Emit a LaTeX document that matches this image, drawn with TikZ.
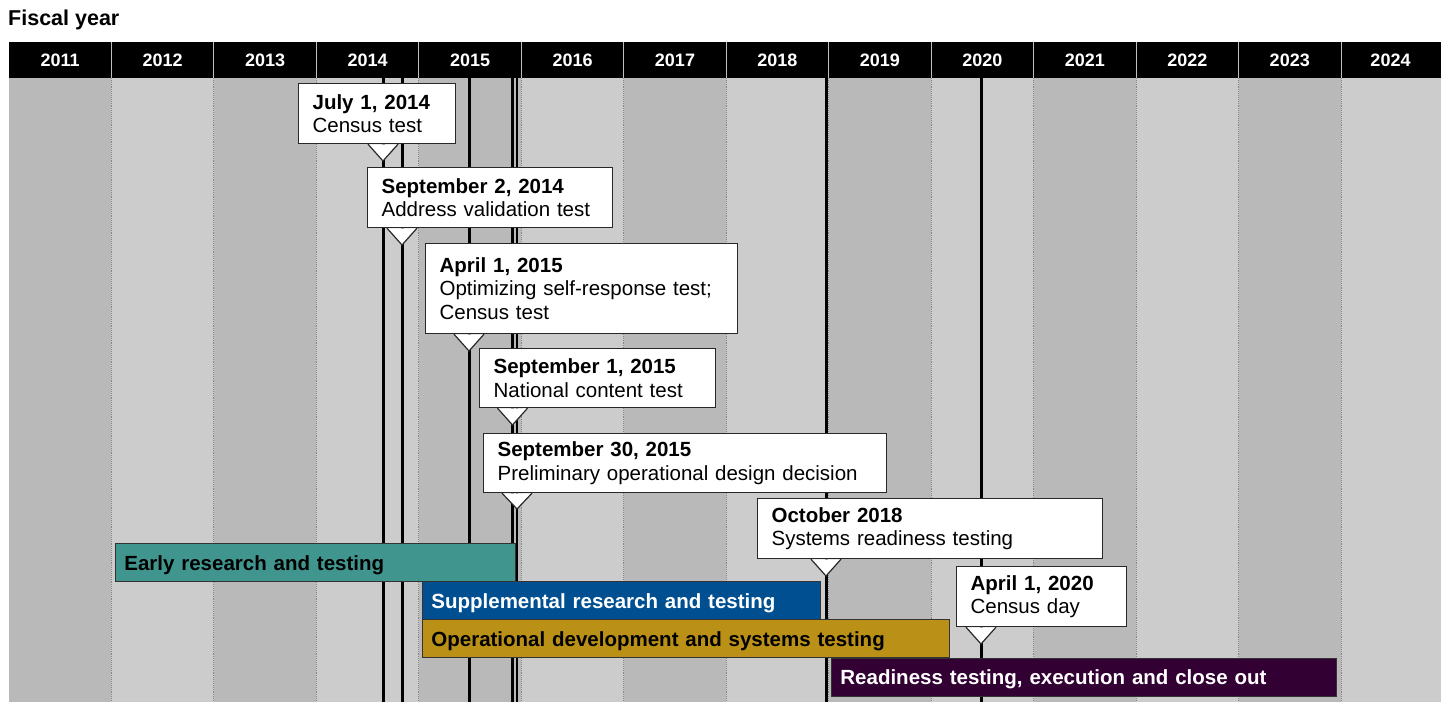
\documentclass[tikz,border=0pt]{standalone}
\usepackage{fontspec}
\setmainfont{Liberation Sans}
\usetikzlibrary{calc}
\definecolor{darkcol}{RGB}{185,185,185}
\definecolor{lightcol}{RGB}{204,204,204}
\definecolor{dotcol}{RGB}{135,135,135}
\definecolor{tealbar}{RGB}{64,150,143}
\definecolor{bluebar}{RGB}{0,80,145}
\definecolor{goldbar}{RGB}{186,144,22}
\definecolor{purpbar}{RGB}{51,0,51}
\definecolor{boxline}{RGB}{40,40,40}
\newcommand\cfont{\fontsize{20.5bp}{23.5bp}\selectfont}
\begin{document}
\begin{tikzpicture}[x=1bp,y=-1bp,
  colfill/.style={fill=#1},
  yearlabel/.style={text=white,font=\fontsize{18bp}{20bp}\selectfont\bfseries,inner sep=0pt},
  msline/.style={line width=3bp,black},
  callout/.style={draw=boxline,fill=white,line width=1.2bp,anchor=north west,
    inner xsep=14bp,inner ysep=0pt,align=left,font=\cfont},
  pointer/.style={fill=white},
  pointeredge/.style={draw=boxline,line width=1.2bp},
  barbox/.style={draw=black!80,line width=0.8bp,anchor=north west,inner xsep=9bp,
    inner ysep=0pt,minimum height=38bp,align=left,text height=18bp,text depth=2bp,
    font=\fontsize{20.5bp}{23bp}\selectfont\bfseries}]
\useasboundingbox (0,0) rectangle (1445,702);
\fill[white] (0,0) rectangle (1445,702);
% columns
\foreach \i/\c in {0/darkcol,1/lightcol,2/darkcol,3/lightcol,4/darkcol,5/lightcol,6/darkcol,7/lightcol,8/darkcol,9/lightcol,10/darkcol,11/lightcol,12/darkcol,13/lightcol}{
  \pgfmathsetmacro\xa{9+102.46*\i}
  \pgfmathsetmacro\xb{min(9+102.46*(\i+1),1441)}
  \fill[colfill=\c] (\xa,78) rectangle (\xb,702);
}
\foreach \i in {1,...,13}{
  \pgfmathsetmacro\xa{9+102.46*\i}
  \draw[dotcol,line width=0.9bp,densely dotted] (\xa,78) -- (\xa,702);
}
% header
\node[fill=black,minimum width=1432bp,minimum height=36bp,anchor=north west,inner sep=0pt] (hdr) at (9,42) {};
\foreach \i in {0,...,13}{
  \pgfmathsetmacro\xc{min(9+102.46*(\i+0.5),1390.5)}
  \pgfmathtruncatemacro\yr{2011+\i}
  \node[yearlabel] (y\yr) at (\xc,60) {\yr};
}
\foreach \i in {1,...,13}{
  \pgfmathsetmacro\xa{9+102.46*\i}
  \draw[white!75!black,line width=1bp] (\xa,42) -- (\xa,78);
}
\node[anchor=base west,inner sep=0pt,font=\fontsize{21.5bp}{23bp}\selectfont\bfseries] (title) at (8,26) {Fiscal year};
% milestone tips
\coordinate (t1) at (383,161);
\coordinate (t2) at (402,245);
\coordinate (t3) at (469,351);
\coordinate (t4) at (512.5,425);
\coordinate (t5) at (517,509);
\coordinate (t6) at (826,576);
\coordinate (t7) at (981,644);
\coordinate (bot) at (0,702);
% milestone lines
\foreach \t in {t1,t2,t3,t6,t7}{
  \draw[msline] (\t |- hdr.south) -- (\t |- bot);
}
\draw[line width=2.5bp] (t4 |- hdr.south) -- (t4 |- bot);
\draw[line width=2.5bp] (t5 |- hdr.south) -- (t5 |- bot);
% bars
\node[barbox,fill=tealbar,text=black,text width=382bp] (early) at (115,543) {Early research and testing};
\node[barbox,fill=bluebar,text=white,text width=380bp] (supp) at (422,581) {Supplemental research and testing};
\node[barbox,fill=goldbar,text=black,text width=509bp] (oper) at (422,619) {Operational development and systems testing};
\node[barbox,fill=purpbar,text=white,text width=487bp] (ready) at (831,657.5) {Readiness testing, execution and close out};
% callouts
\node[callout,text width=129bp,minimum height=60bp] (c1) at (298,83) {\textbf{July 1, 2014}\\Census test};
\node[callout,text width=217bp,minimum height=60bp] (c2) at (367,167) {\textbf{September 2, 2014}\\Address validation test};
\node[callout,text width=284bp,minimum height=90bp] (c3) at (425,243) {\textbf{April 1, 2015}\\Optimizing self-response test;\\Census test};
\node[callout,text width=208bp,minimum height=59bp] (c4) at (479,348) {\textbf{September 1, 2015}\\National content test};
\node[callout,text width=375bp,minimum height=59bp] (c5) at (483,433) {\textbf{September 30, 2015}\\Preliminary operational design decision};
\node[callout,text width=317bp,minimum height=60bp] (c6) at (757,498) {\textbf{October 2018}\\Systems readiness testing};
\node[callout,text width=142bp,minimum height=60bp] (c7) at (956,566) {\textbf{April 1, 2020}\\Census day};
% pointers
\foreach \n in {1,...,7}{
  \fill[pointer] ($(t\n |- c\n.south)+(-15,0.2)$) -- (t\n) -- ($(t\n |- c\n.south)+(15,0.2)$) -- cycle;
  \draw[pointeredge] ($(t\n |- c\n.south)+(-15,0)$) -- (t\n) -- ($(t\n |- c\n.south)+(15,0)$);
}
\end{tikzpicture}
\end{document}
